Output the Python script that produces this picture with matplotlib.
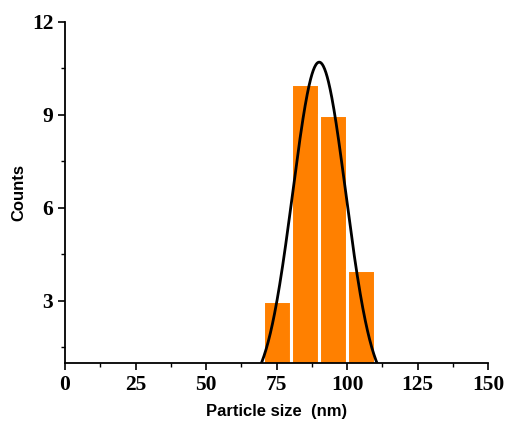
import numpy as np
import matplotlib
matplotlib.use("Agg")
import matplotlib.pyplot as plt
from matplotlib.ticker import MultipleLocator

# histogram bins (nm) and counts
bin_centers = [75, 85, 95, 105]
counts = [3, 10, 9, 4]

# gaussian fit parameters
fit_center = 90.1
fit_sigma = 9.4
fit_amp = 10.7

fig = plt.figure(figsize=(5.08, 4.28), dpi=100)
ax = fig.add_axes([0.128, 0.152, 0.833, 0.797])

ax.bar(bin_centers, counts, width=10, bottom=0, color='#FF8000',
       edgecolor='white', linewidth=2.2, zorder=2)

x = np.linspace(60, 120, 400)
y = fit_amp * np.exp(-(x - fit_center) ** 2 / (2 * fit_sigma ** 2))
ax.plot(x, y, color='black', linewidth=2, zorder=3)

ax.set_xlim(0, 150)
ax.set_ylim(1, 12)
ax.xaxis.set_major_locator(MultipleLocator(25))
ax.xaxis.set_minor_locator(MultipleLocator(12.5))
ax.set_yticks([3, 6, 9, 12])
ax.yaxis.set_minor_locator(MultipleLocator(1.5))

for s in ['top', 'right']:
    ax.spines[s].set_visible(False)
for s in ['left', 'bottom']:
    ax.spines[s].set_linewidth(1.3)

ax.tick_params(which='major', direction='out', length=5, width=1.2)
ax.tick_params(which='minor', direction='out', length=3, width=1.0)
for lab in ax.get_xticklabels() + ax.get_yticklabels():
    lab.set_fontfamily('Liberation Serif')
    lab.set_fontweight('bold')
    lab.set_fontsize(15.5)

ax.set_xlabel('Particle size  (nm)', fontfamily='Liberation Sans',
              fontweight='bold', fontsize=12, labelpad=7)
ax.set_ylabel('Counts', fontfamily='Liberation Sans',
              fontweight='bold', fontsize=12, labelpad=4)

fig.savefig('out.png', dpi=100)
